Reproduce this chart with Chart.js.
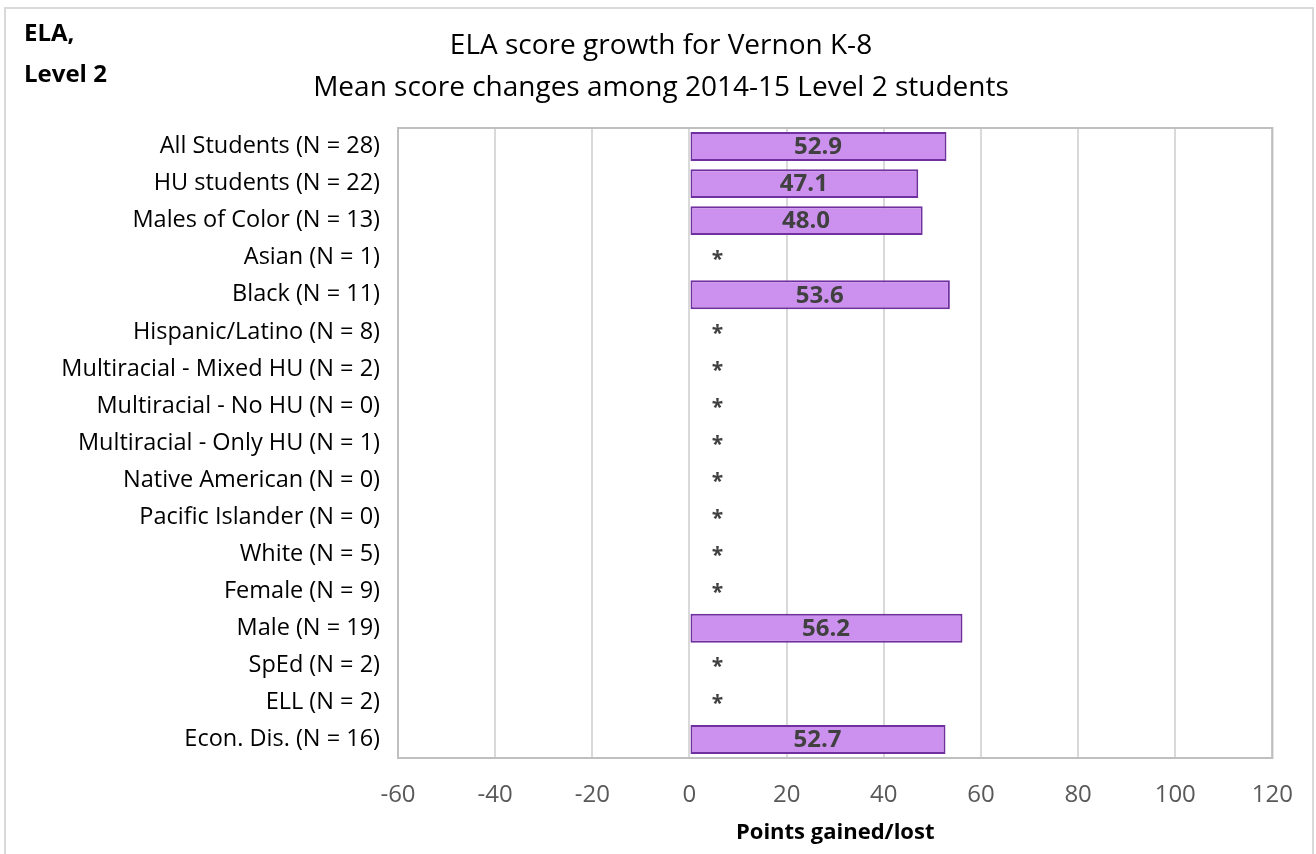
<!DOCTYPE html>
<html>
<head>
<meta charset="utf-8">
<script src="https://cdn.jsdelivr.net/npm/chart.js@4"></script>
<style>
  html, body { margin: 0; padding: 0; background: #fff; }
  #wrap { width: 1316px; height: 854px; }
</style>
</head>
<body>
<div id="wrap"><canvas id="chart" width="1316" height="854"></canvas></div>
<script>
const categories = [
  'All Students (N = 28)', 'HU students (N = 22)', 'Males of Color (N = 13)', 'Asian (N = 1)',
  'Black (N = 11)', 'Hispanic/Latino (N = 8)', 'Multiracial - Mixed HU (N = 2)', 'Multiracial - No HU (N = 0)',
  'Multiracial - Only HU (N = 1)', 'Native American (N = 0)', 'Pacific Islander (N = 0)', 'White (N = 5)',
  'Female (N = 9)', 'Male (N = 19)', 'SpEd (N = 2)', 'ELL (N = 2)', 'Econ. Dis. (N = 16)'
];
// null = suppressed (shown as *)
const growth = [52.9, 47.1, 48.0, null, 53.6, null, null, null, null, null, null, null, null, 56.2, null, null, 52.7];
const xTicks = [-60, -40, -20, 0, 20, 40, 60, 80, 100, 120];
const titleLines = ['ELA score growth for Vernon K-8', 'Mean score changes among 2014-15 Level 2 students'];
const cornerLines = ['ELA,', 'Level 2'];

const FONT = '"Open Sans", sans-serif';

const decorPlugin = {
  id: 'decor',
  beforeDraw: chart => {
    const ctx = chart.ctx;
    ctx.save();
    ctx.fillStyle = '#fff';
    ctx.fillRect(0, 0, chart.width, chart.height);
    ctx.strokeStyle = '#d9d9d9';
    ctx.lineWidth = 2;
    ctx.strokeRect(5, 8, 1308, 870);
    ctx.restore();
  },
  afterDatasetsDraw: chart => {
    const ctx = chart.ctx;
    const a = chart.chartArea;
    const meta = chart.getDatasetMeta(0);
    const xs = chart.scales.x;
    ctx.save();
    // plot area box
    ctx.strokeStyle = '#bfbfbf';
    ctx.lineWidth = 2;
    ctx.strokeRect(a.left, a.top, a.right - a.left, a.bottom - a.top);

    // value labels
    ctx.textAlign = 'center';
    ctx.textBaseline = 'middle';
    ctx.fillStyle = '#404040';
    growth.forEach((v, i) => {
      const y = meta.data[i].y;
      if (v === null) {
        ctx.font = 'bold 21px ' + FONT;
        ctx.fillText('*', xs.getPixelForValue(0) + 28, y + 2);
      } else {
        ctx.font = 'bold 24px ' + FONT;
        ctx.fillText(v.toFixed(1), (xs.getPixelForValue(0) + xs.getPixelForValue(v)) / 2, y + 1);
      }
    });

    // titles
    ctx.fillStyle = '#000';
    ctx.font = '28px ' + FONT;
    ctx.fillText(titleLines[0], 661, 46);
    ctx.fillText(titleLines[1], 661, 88);
    ctx.textAlign = 'left';
    ctx.font = 'bold 24px ' + FONT;
    ctx.fillText(cornerLines[0], 24, 34);
    ctx.fillText(cornerLines[1], 24, 75);
    ctx.restore();
  }
};

new Chart(document.getElementById('chart'), {
  type: 'bar',
  data: {
    labels: categories,
    datasets: [{
      data: growth,
      backgroundColor: '#cc91ee',
      borderColor: '#7030a0',
      borderWidth: 2,
      borderSkipped: false,
      barPercentage: 0.78,
      categoryPercentage: 1
    }]
  },
  options: {
    indexAxis: 'y',
    responsive: false,
    animation: false,
    layout: { padding: { top: 128, right: 41, left: 0, bottom: 0 } },
    plugins: {
      legend: { display: false },
      tooltip: { enabled: false }
    },
    scales: {
      x: {
        min: -60,
        max: 120,
        afterBuildTicks: scale => { scale.ticks = xTicks.map(v => ({ value: v })); },
        afterFit: scale => { scale.height = 96; },
        grid: { color: '#d9d9d9', lineWidth: 2, drawTicks: false },
        border: { color: '#bfbfbf', width: 2 },
        ticks: {
          padding: 23,
          color: '#595959',
          font: { family: FONT, size: 24 }
        },
        title: {
          display: true,
          text: 'Points gained/lost',
          color: '#000',
          font: { family: FONT, size: 22, weight: 'bold' },
          padding: { top: 0, bottom: 8 }
        }
      },
      y: {
        afterFit: scale => { scale.width = 398; },
        grid: { display: false, drawTicks: false },
        border: { display: false },
        ticks: {
          padding: 18,
          color: '#000',
          font: { family: FONT, size: 23.5 }
        }
      }
    }
  },
  plugins: [decorPlugin]
});
</script>
</body>
</html>
